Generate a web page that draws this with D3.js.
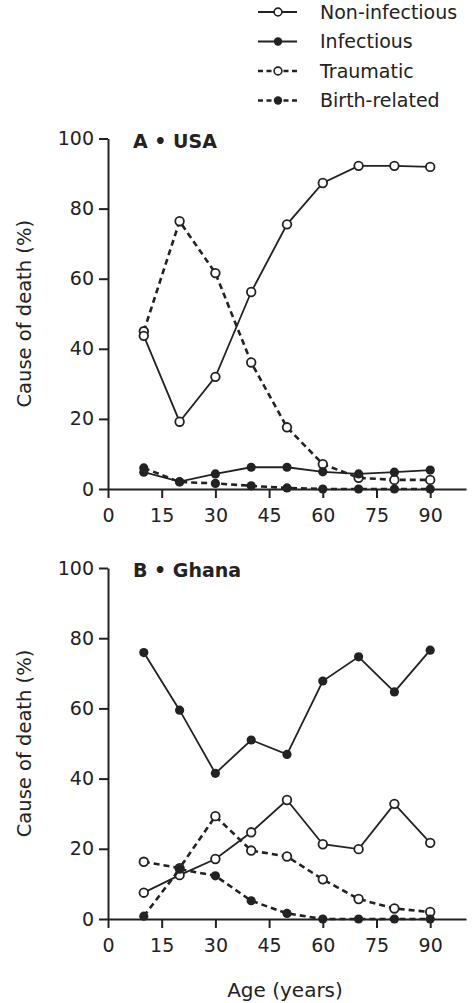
<!DOCTYPE html>
<html>
<head>
<meta charset="utf-8">
<script src="https://cdn.jsdelivr.net/npm/d3@7"></script>
<style>
  body { margin: 0; background: #fff; }
  text { font-family: "DejaVu Sans", Verdana, sans-serif; fill: #222; }
  .axis path, .axis line { stroke: #222; stroke-width: 2; }
  .axis text { font-size: 19px; fill: #222; }
</style>
</head>
<body>
<div id="chart"></div>
<script>
// ages of the data points (years)
const ages = [10, 20, 30, 40, 50, 60, 70, 80, 90]
const xTicks = [0, 15, 30, 45, 60, 75, 90]
const yTicks = [0, 20, 40, 60, 80, 100]

const seriesNames = ["Non-infectious", "Infectious", "Traumatic", "Birth-related"]

// A - USA
const usaNonInfectious = [43.7, 19.2, 32.0, 56.2, 75.5, 87.3, 92.2, 92.2, 91.9]
const usaInfectious    = [4.8, 2.1, 4.3, 6.2, 6.2, 4.9, 4.3, 4.8, 5.4]
const usaTraumatic     = [45.0, 76.4, 61.6, 36.1, 17.6, 7.1, 3.2, 2.6, 2.6]
const usaBirth         = [6.0, 2.0, 1.6, 0.9, 0.3, 0, 0, 0, 0]

// B - Ghana
const ghanaNonInfectious = [7.5, 12.5, 17.1, 24.7, 33.9, 21.3, 19.9, 32.8, 21.7]
const ghanaInfectious    = [75.9, 59.5, 41.5, 51.0, 46.9, 67.8, 74.7, 64.7, 76.6]
const ghanaTraumatic     = [16.3, 14.5, 29.3, 19.5, 17.8, 11.3, 5.7, 3.0, 2.0]
const ghanaBirth         = [0.8, 14.2, 12.3, 5.2, 1.6, 0, 0, 0, 0]

const styles = {
  "Non-infectious": { dashed: false, filled: false },
  "Infectious":     { dashed: false, filled: true },
  "Traumatic":      { dashed: true,  filled: false },
  "Birth-related":  { dashed: true,  filled: true },
}

const ink = "#222"

const dimensions = {
  width: 475,
  height: 1003,
  left: 108,
  right: 466,
}

const wrapper = d3.select("#chart")
  .append("svg")
    .attr("width", dimensions.width)
    .attr("height", dimensions.height)

const xScale = d3.scaleLinear()
  .domain([0, 100])
  .range([dimensions.left, dimensions.right])

function drawSeries(g, yScale, name, values) {
  const st = styles[name]
  const pts = ages.map((a, i) => [a, values[i]])
  const line = d3.line()
    .x(d => xScale(d[0]))
    .y(d => yScale(d[1]))
  g.append("path")
    .attr("d", line(pts))
    .attr("fill", "none")
    .attr("stroke", ink)
    .attr("stroke-width", st.dashed ? 2.6 : 1.8)
    .attr("stroke-dasharray", st.dashed ? "6 4" : null)
  g.selectAll(null)
    .data(pts)
    .join("circle")
      .attr("cx", d => xScale(d[0]))
      .attr("cy", d => yScale(d[1]))
      .attr("r", st.filled ? 4.6 : 4.3)
      .attr("fill", st.filled ? ink : "#fff")
      .attr("stroke", ink)
      .attr("stroke-width", st.filled ? 0 : 1.8)
}

function drawPanel(top, bottom, title, series) {
  const yScale = d3.scaleLinear()
    .domain([0, 100])
    .range([bottom, top])
  const g = wrapper.append("g")

  const yAxis = g.append("g")
    .attr("class", "axis")
    .attr("transform", `translate(${dimensions.left},0)`)
    .call(d3.axisLeft(yScale).tickValues(yTicks).tickSize(9).tickPadding(5).tickSizeOuter(0))
  const xAxis = g.append("g")
    .attr("class", "axis")
    .attr("transform", `translate(0,${bottom})`)
    .call(d3.axisBottom(xScale).tickValues(xTicks).tickSize(9).tickPadding(11).tickSizeOuter(0))
  g.selectAll(".axis .domain").attr("stroke-width", 2)
  g.selectAll(".axis text").style("font-family", '"DejaVu Sans", Verdana, sans-serif')

  g.append("text")
    .attr("transform", `translate(31,${(top + bottom) / 2}) rotate(-90)`)
    .attr("text-anchor", "middle")
    .style("font-size", "19.5px")
    .text("Cause of death (%)")

  g.append("text")
    .attr("x", 133)
    .attr("y", top + 9)
    .style("font-size", "19px")
    .style("font-weight", "bold")
    .text(title)

  // draw order: traumatic & birth first, then solid on top
  series.forEach(s => drawSeries(g, yScale, s[0], s[1]))
}

drawPanel(138.5, 489, "A • USA", [
  ["Traumatic", usaTraumatic],
  ["Birth-related", usaBirth],
  ["Non-infectious", usaNonInfectious],
  ["Infectious", usaInfectious],
])

drawPanel(568, 919, "B • Ghana", [
  ["Traumatic", ghanaTraumatic],
  ["Non-infectious", ghanaNonInfectious],
  ["Infectious", ghanaInfectious],
  ["Birth-related", ghanaBirth],
])

wrapper.append("text")
  .attr("x", 285)
  .attr("y", 997)
  .attr("text-anchor", "middle")
  .style("font-size", "20px")
  .text("Age (years)")

// legend
const legend = wrapper.append("g")
seriesNames.forEach((name, i) => {
  const st = styles[name]
  const y = 12 + i * 29.5
  const row = legend.append("g").attr("transform", `translate(0,${y})`)
  row.append("line")
    .attr("x1", 258).attr("x2", 297)
    .attr("y1", 0).attr("y2", 0)
    .attr("stroke", ink)
    .attr("stroke-width", st.dashed ? 2.6 : 1.8)
    .attr("stroke-dasharray", st.dashed ? "5 3.5" : null)
  row.append("circle")
    .attr("cx", 278).attr("cy", 0)
    .attr("r", st.filled ? 4.2 : 3.9)
    .attr("fill", st.filled ? ink : "#fff")
    .attr("stroke", ink)
    .attr("stroke-width", st.filled ? 0 : 1.6)
  row.append("text")
    .attr("x", 320)
    .attr("y", 0)
    .attr("dy", "0.35em")
    .style("font-size", "19px")
    .text(name)
})
</script>
</body>
</html>
